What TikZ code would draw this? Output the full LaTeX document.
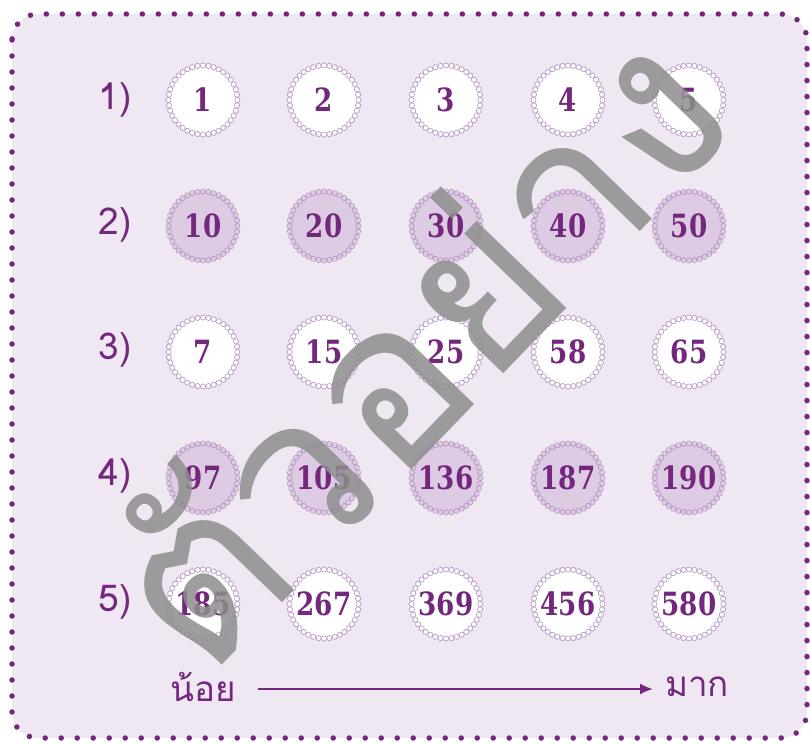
\documentclass[tikz,border=0pt]{standalone}
\usepackage{fontspec}
\usetikzlibrary{arrows.meta}
\newfontfamily\thaifont[Script=Thai]{Loma}
\newfontfamily\numfont{DejaVu Serif}
\definecolor{bgpurple}{HTML}{EFE7F2}
\definecolor{dkpurple}{HTML}{74287D}
\definecolor{ltpurple}{HTML}{B592C0}
\definecolor{midfill}{HTML}{DDCBE3}
\definecolor{wmgray}{HTML}{8E8E8E}
\tikzset{
  numcirc/.style={circle, minimum size=72pt, inner sep=0pt, text=dkpurple,
    font=\numfont\bfseries\fontsize{32}{32}\selectfont},
  whitecirc/.style={numcirc, fill=white},
  tintcirc/.style={numcirc, fill=midfill},
  rowlabel/.style={text=dkpurple, font=\thaifont\fontsize{37}{37}\selectfont},
  thaitext/.style={text=dkpurple, font=\thaifont\fontsize{35}{35}\selectfont},
  scallop/.style={draw=ltpurple, line width=0.6pt},
  frame/.style={draw=dkpurple, line width=5.5pt, line cap=round, dash pattern=on 0pt off 16pt, fill=bgpurple, rounded corners=26pt},
  axisarrow/.style={draw=dkpurple, line width=2pt, -{Latex[length=13pt,width=11pt]}},
  watermark/.style={text=wmgray, opacity=0.85, font=\thaifont\fontsize{225}{225}\selectfont}
}
\newcommand{\nm}[1]{\scalebox{0.82}[1]{#1}}
\begin{document}
\begin{tikzpicture}[x=1pt,y=-1pt]
\useasboundingbox (0,0) rectangle (810,743);
\fill[white] (0,0) rectangle (810,743);
\draw[frame] (12,14) rectangle (807,738);
% row labels
\node[rowlabel] (l1) at (115,100) {1)};
\node[rowlabel] (l2) at (115,225) {2)};
\node[rowlabel] (l3) at (115,350) {3)};
\node[rowlabel] (l4) at (115,476) {4)};
\node[rowlabel] (l5) at (115,602) {5)};
% circles
\def\xa{203}\def\xb{324}\def\xc{446}\def\xd{568}\def\xe{689}
\foreach \r/\y/\sty/\va/\vb/\vc/\vd/\ve in {
  1/100/whitecirc/1/2/3/4/5,
  2/226/tintcirc/10/20/30/40/50,
  3/352/whitecirc/7/15/25/58/65,
  4/478/tintcirc/97/105/136/187/190,
  5/604/whitecirc/185/267/369/456/580}{
  \node[\sty] (c\r a) at (\xa,\y) {\nm{\va}};
  \node[\sty] (c\r b) at (\xb,\y) {\nm{\vb}};
  \node[\sty] (c\r c) at (\xc,\y) {\nm{\vc}};
  \node[\sty] (c\r d) at (\xd,\y) {\nm{\vd}};
  \node[\sty] (c\r e) at (\xe,\y) {\nm{\ve}};
  \foreach \cc in {a,b,c,d,e}{
    \foreach \ang in {0,9,...,351}{
      \draw[scallop] (c\r\cc.center) ++(\ang:34.5) circle (2.6);
    }
  }
}
% axis
\node[thaitext] (noi) at (203,687) {น้อย};
\node[thaitext] (mak) at (697,687) {มาก};
\coordinate (as) at (258,689);
\coordinate (ae) at (653,689);
\draw[axisarrow] (as) -- (ae);
% watermark
\node[watermark, rotate=46] (wm) at (410,342) {ตัวอย่าง};
\end{tikzpicture}
\end{document}
